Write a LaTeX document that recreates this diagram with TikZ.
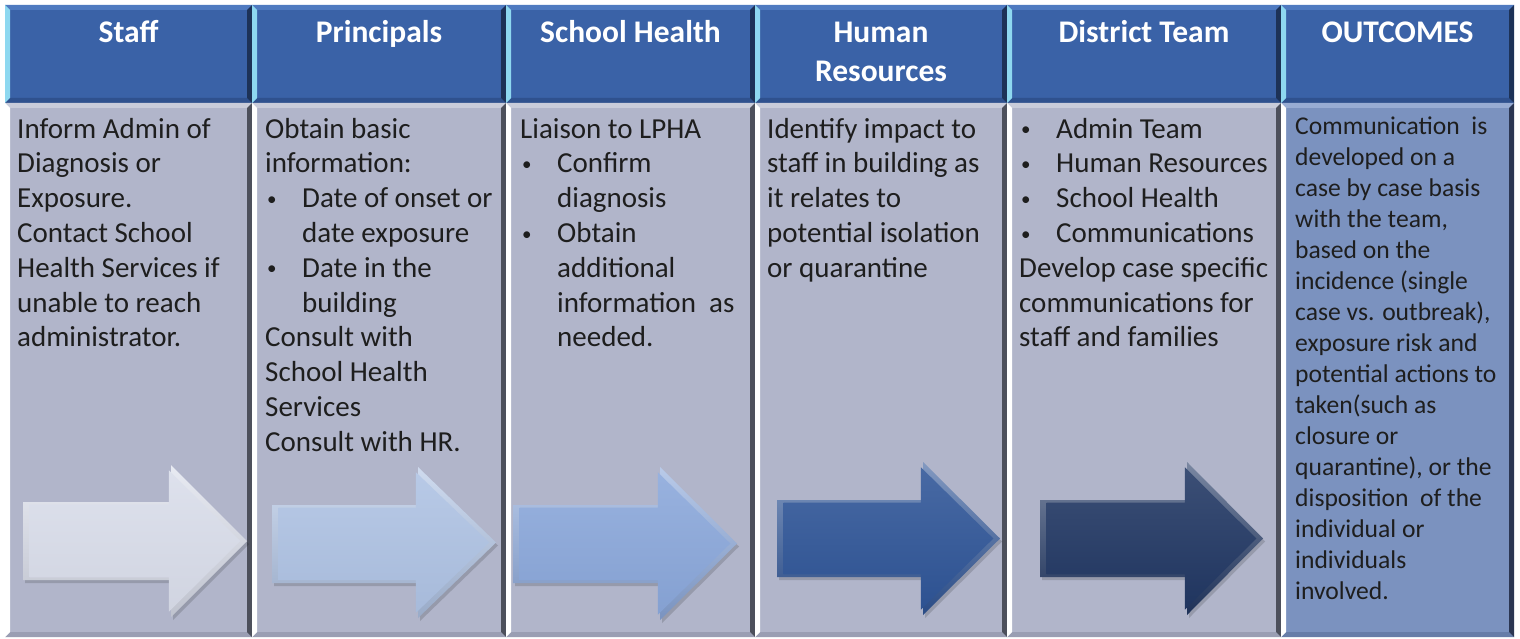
\documentclass[tikz,border=0pt]{standalone}
\usepackage{fontspec}
\setmainfont{Carlito}
\definecolor{hdr}{HTML}{3A62A7}
\definecolor{hdrL}{HTML}{8ED8F0}
\definecolor{hdrT}{HTML}{4F7AC0}
\definecolor{hdrR}{HTML}{1D3257}
\definecolor{hdrB}{HTML}{2F518E}
\definecolor{bod}{HTML}{B1B5CA}
\definecolor{bodT}{HTML}{C9CCDA}
\definecolor{bodR}{HTML}{4D505C}
\definecolor{bodB}{HTML}{9A9EB3}
\definecolor{outc}{HTML}{7B92BF}
\definecolor{outT}{HTML}{98ACD3}
\definecolor{outR}{HTML}{2B3652}
\definecolor{outB}{HTML}{677DA8}
\definecolor{arA}{HTML}{D9DDEA}
\definecolor{arB}{HTML}{AEC2E3}
\definecolor{arC}{HTML}{8AA7DA}
\definecolor{arD}{HTML}{2F5597}
\definecolor{arE}{HTML}{213763}
\definecolor{txt}{HTML}{1E1E1E}
\newcommand\bevbox[9]{%
 \fill[#5] (#1,#2) rectangle (#3,#4);
 \fill[#7] (#1,#2) -- (#3,#2) -- ({#3-5},{#2+5}) -- ({#1+5},{#2+5}) -- cycle;
 \fill[#9] (#1,#4) -- (#3,#4) -- ({#3-5},{#4-5}) -- ({#1+5},{#4-5}) -- cycle;
 \fill[#6] (#1,#2) -- ({#1+5},{#2+5}) -- ({#1+5},{#4-5}) -- (#1,#4) -- cycle;
 \fill[#8] (#3,#2) -- ({#3-5},{#2+5}) -- ({#3-5},{#4-5}) -- (#3,#4) -- cycle;
}
\newcommand\bul[1]{\makebox[37pt][l]{\hspace{2pt}\raisebox{2.5pt}{\fontsize{19}{19}\selectfont •}}#1}
\newcommand\ind{\hspace*{37pt}}
\tikzset{
  hdrtext/.style={anchor=north, inner sep=0pt, align=center, text=white,
    font=\fontsize{31.5}{39}\selectfont\bfseries},
  bodytext/.style={anchor=north west, inner sep=0pt, align=left, text=txt,
    font=\fontsize{29}{34.8}\selectfont},
  outtext/.style={anchor=north west, inner sep=0pt, align=left, text=txt,
    font=\fontsize{25.6}{31}\selectfont},
}
\begin{document}
\begin{tikzpicture}[x=1pt,y=-1pt]
\useasboundingbox (0,0) rectangle (1520,639);
\fill[white] (0,0) rectangle (1520,639);
% columns
\foreach \xa/\xb in {5/252,252/506,506/755,755/1007,1007/1281,1281/1514}{
  \bevbox{\xa}{5}{\xb}{103}{hdr}{hdrL}{hdrT}{hdrR}{hdrB}
}
\foreach \xa/\xb in {5/252,252/506,506/755,755/1007,1007/1281}{
  \bevbox{\xa}{103}{\xb}{637}{bod}{white}{bodT}{bodR}{bodB}
}
\bevbox{1281}{103}{1514}{637}{outc}{white}{outT}{outR}{outB}
% arrows
\foreach \xa/\xb/\xc/\ya/\yb/\yc/\yd/\col in {
  23/171/247/502/580/465/617/arA,
  272/418/496/505/583/467/618/arB,
  513/660/737/505/583/467/620/arC,
  777/923/1000/500/577/462/615/arD,
  1040/1187/1263/500/577/462/615/arE}{
  \pgfmathsetmacro\ty{(\yc+\yd)/2}
  \pgfmathsetmacro\cx{(\xa+\xc)/2}
  \pgfmathsetmacro\cy{\ty}
  \def\arrowpath{(\xa,\ya) -- (\xb,\ya) -- (\xb,\yc) -- (\xc,\ty) -- (\xb,\yd) -- (\xb,\yb) -- (\xa,\yb) -- cycle}
  \begin{scope}[shift={(2,3)}]
    \fill[black,opacity=.15] \arrowpath;
  \end{scope}
  \shade[top color=\col!60!white, bottom color=\col!88!black] \arrowpath;
  \begin{scope}[shift={(\cx,\cy)}, xscale=.94, yscale=.93, shift={(-\cx,-\cy)}]
    \shade[top color=\col!88!white, bottom color=\col!96!black] \arrowpath;
  \end{scope}
}
% headers
\node[hdrtext] (hStaff) at (128.5,14.7) {\strut Staff};
\node[hdrtext] (hPrin) at (379,14.7) {\strut Principals};
\node[hdrtext] (hSH) at (630.5,14.7) {\strut School Health};
\node[hdrtext] (hHR) at (881,14.7) {\strut Human\\Resources};
\node[hdrtext] (hDT) at (1144,14.7) {\strut District Team};
\node[hdrtext] (hOut) at (1397.5,14.7) {\strut OUTCOMES};
% bodies
\node[bodytext] (bStaff) at (17,113.6) {\strut Inform Admin of\\Diagnosis or\\Exposure.\\Contact School\\Health Services if\\unable to reach\\administrator.};
\node[bodytext] (bPrin) at (265,113.6) {\strut Obtain basic\\information:\\\bul{Date of onset or}\\\ind date exposure\\\bul{Date in the}\\\ind building\\Consult with\\School Health\\Services\\Consult with HR.};
\node[bodytext] (bSH) at (520,113.6) {\strut Liaison to LPHA\\\bul{Confirm}\\\ind diagnosis\\\bul{Obtain}\\\ind additional\\\ind information~ as\\\ind needed.};
\node[bodytext] (bHR) at (767,113.6) {\strut Identify impact to\\staff in building as\\it relates to\\potential isolation\\or quarantine};
\node[bodytext] (bDT) at (1019,113.6) {\strut\bul{Admin Team}\\\bul{Human Resources}\\\bul{School Health}\\\bul{Communications}\\Develop case specific\\communications for\\staff and families};
\node[outtext] (bOut) at (1295,112.3) {\strut Communication~ is\\developed on a\\case by case basis\\with the team,\\based on the\\incidence (single\\case vs. outbreak),\\exposure risk and\\potential actions to\\taken(such as\\closure or\\quarantine), or the\\disposition~ of the\\individual or\\individuals\\involved.};
\end{tikzpicture}
\end{document}
